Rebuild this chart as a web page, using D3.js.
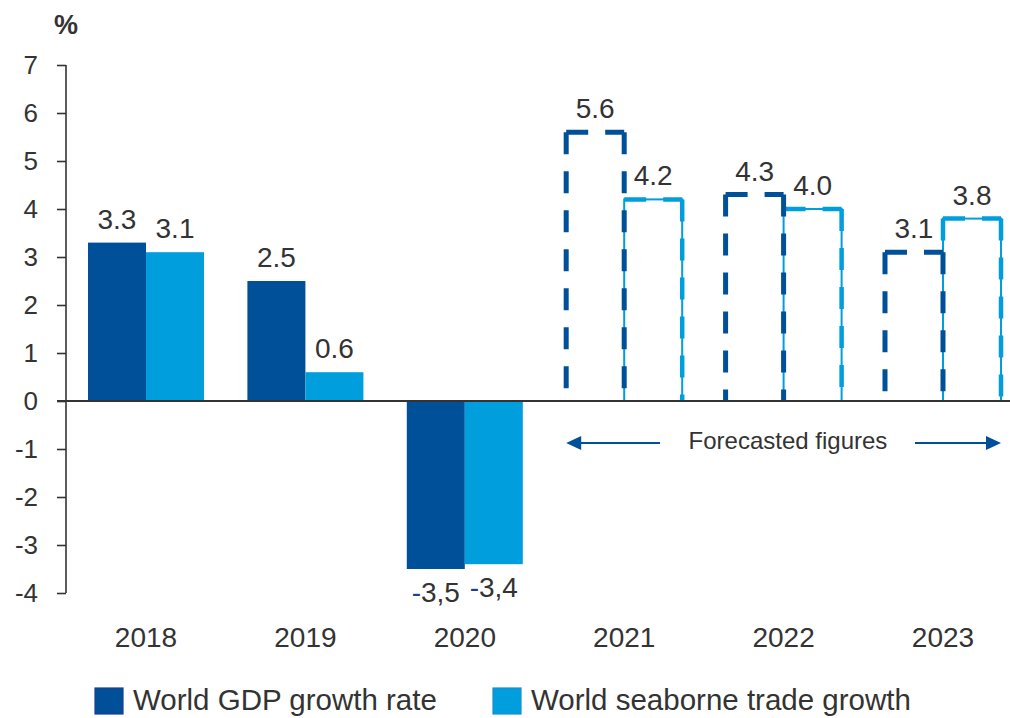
<!DOCTYPE html>
<html>
<head>
<meta charset="utf-8">
<script src="https://cdn.jsdelivr.net/npm/d3@7"></script>
<style>
  html, body { margin: 0; padding: 0; background: #fff; }
  svg { display: block; font-family: "Liberation Sans", Arial, sans-serif; }
</style>
</head>
<body>
<svg id="chart" width="1010" height="718"></svg>
<script>
// ---- data ----
const years = ["2018", "2019", "2020", "2021", "2022", "2023"];
const gdpValues = [3.3, 2.5, -3.5, 5.6, 4.3, 3.1];
const tradeValues = [3.1, 0.6, -3.4, 4.2, 4.0, 3.8];
const gdpLabels = ["3.3", "2.5", "-3,5", "5.6", "4.3", "3.1"];
const tradeLabels = ["3.1", "0.6", "-3,4", "4.2", "4.0", "3.8"];
const isForecast = [false, false, false, true, true, true];
const yTicks = [7, 6, 5, 4, 3, 2, 1, 0, -1, -2, -3, -4];
const seriesNames = ["World GDP growth rate", "World seaborne trade growth"];
const forecastLabel = "Forecasted figures";

// ---- styles ----
const DARK = "#004f99";
const LIGHT = "#009edd";
const TEXT = "#333333";

const svg = d3.select("#chart");

const y = d3.scaleLinear().domain([-4, 7]).range([593, 65]);
const x0 = d3.scaleBand().domain(years).range([66.3, 1022.7]).padding(0);
const x1 = d3.scaleBand().domain(["gdp", "trade"]).range([0, x0.bandwidth()])
  .paddingInner(0).paddingOuter(0.374);

const rows = years.map((yr, i) => ({
  year: yr, gdp: gdpValues[i], trade: tradeValues[i],
  gdpLabel: gdpLabels[i], tradeLabel: tradeLabels[i], forecast: isForecast[i]
}));

// ---- solid bars (actuals) ----
const actual = rows.filter(d => !d.forecast);
svg.append("g").selectAll("rect.gdp").data(actual).join("rect")
  .attr("x", d => x0(d.year) + x1("gdp"))
  .attr("width", x1.bandwidth())
  .attr("y", d => y(Math.max(0, d.gdp)))
  .attr("height", d => Math.abs(y(d.gdp) - y(0)))
  .attr("fill", DARK);
svg.append("g").selectAll("rect.trade").data(actual).join("rect")
  .attr("x", d => x0(d.year) + x1("trade"))
  .attr("width", x1.bandwidth())
  .attr("y", d => y(Math.max(0, d.trade)))
  .attr("height", d => Math.abs(y(d.trade) - y(0)))
  .attr("fill", LIGHT);

// ---- forecast (dashed) bars ----
const fc = rows.filter(d => d.forecast);
const dash = "22,17";
const gT = svg.append("g");
fc.forEach(d => {
  const xl = x0(d.year) + x1("trade"), xr = xl + x1.bandwidth();
  const yt = y(d.trade), yb = y(0);
  gT.append("rect").attr("x", xl).attr("y", yt).attr("width", xr - xl).attr("height", yb - yt)
    .attr("fill", "none").attr("stroke", LIGHT).attr("stroke-width", 2);
  gT.append("line").attr("x1", xl).attr("x2", xr).attr("y1", yt).attr("y2", yt)
    .attr("stroke", LIGHT).attr("stroke-width", 4.5).attr("stroke-dasharray", dash);
  gT.append("line").attr("x1", xr).attr("x2", xr).attr("y1", yt).attr("y2", yb)
    .attr("stroke", LIGHT).attr("stroke-width", 4.5).attr("stroke-dasharray", dash);
  if (d.trade > d.gdp) {
    gT.append("line").attr("x1", xl).attr("x2", xl).attr("y1", yt).attr("y2", y(d.gdp))
      .attr("stroke", LIGHT).attr("stroke-width", 4.5).attr("stroke-dasharray", dash);
  }
});
const gG = svg.append("g");
fc.forEach(d => {
  const xl = x0(d.year) + x1("gdp"), xr = xl + x1.bandwidth();
  const yt = y(d.gdp), yb = y(0);
  const segs = [[xl, yt, xl, yb], [xl, yt, xr, yt], [xr, yt, xr, yb]];
  segs.forEach(s => {
    gG.append("line").attr("x1", s[0]).attr("y1", s[1]).attr("x2", s[2]).attr("y2", s[3])
      .attr("stroke", DARK).attr("stroke-width", 5).attr("stroke-dasharray", dash);
  });
});

// ---- axes ----
const yAxis = svg.append("g").attr("transform", "translate(66,0)")
  .call(d3.axisLeft(y).tickValues(yTicks).tickSize(9).tickPadding(28).tickFormat(d3.format("d")));
yAxis.select(".domain").attr("d", `M0,${y(7)}V${y(-4)}`).attr("stroke", "#333").attr("stroke-width", 1.6);
yAxis.selectAll(".tick line").attr("stroke", "#333").attr("stroke-width", 1.6);
yAxis.selectAll(".tick text").attr("fill", TEXT).attr("font-size", 26)
  .attr("font-family", "'Liberation Sans', Arial, sans-serif").attr("x", -28).attr("dy", "0.34em")
  .text(d => String(d));

// zero line
svg.append("line").attr("x1", 57).attr("x2", 1010).attr("y1", y(0)).attr("y2", y(0))
  .attr("stroke", "#333").attr("stroke-width", 1.8);

// x labels
const xAxis = svg.append("g").attr("transform", "translate(0,620)")
  .call(d3.axisBottom(x0).tickSize(0).tickPadding(0));
xAxis.select(".domain").remove();
xAxis.selectAll(".tick text").attr("fill", TEXT).attr("font-size", 28)
  .attr("font-family", "'Liberation Sans', Arial, sans-serif").attr("dy", "0").attr("y", 27);

// % unit
svg.append("text").attr("x", 66).attr("y", 34).attr("text-anchor", "middle")
  .attr("font-size", 27).attr("font-weight", "bold").attr("fill", TEXT).text("%");

// ---- value labels ----
function addLabels(key, labelKey) {
  rows.forEach(d => {
    const v = d[key];
    const cx = x0(d.year) + x1(key) + x1.bandwidth() / 2;
    const t = svg.append("text").attr("x", cx).attr("text-anchor", "middle")
      .attr("font-size", 28).attr("fill", TEXT);
    if (v >= 0) {
      t.attr("y", y(v) - 14).text(d[labelKey]);
    } else {
      t.attr("y", y(v) + 33);
      const s = d[labelKey];
      t.append("tspan").attr("fill", "#1d3f8f").text(s.slice(0, 1));
      t.append("tspan").text(s.slice(1));
    }
  });
}
addLabels("gdp", "gdpLabel");
addLabels("trade", "tradeLabel");

// ---- forecast arrows ----
const ay = 443;
const firstF = x0(years[isForecast.indexOf(true)]) + x1("gdp");
const lastEnd = x0(years[years.length - 1]) + x1("trade") + x1.bandwidth();
svg.append("line").attr("x1", firstF + 14).attr("x2", 660).attr("y1", ay).attr("y2", ay)
  .attr("stroke", DARK).attr("stroke-width", 2.2);
svg.append("path").attr("d", `M${firstF},${ay}l15,-7v14z`).attr("fill", DARK);
svg.append("line").attr("x1", 915).attr("x2", lastEnd - 14).attr("y1", ay).attr("y2", ay)
  .attr("stroke", DARK).attr("stroke-width", 2.2);
svg.append("path").attr("d", `M${lastEnd},${ay}l-15,-7v14z`).attr("fill", DARK);
svg.append("text").attr("x", 788).attr("y", 449).attr("text-anchor", "middle")
  .attr("font-size", 24).attr("fill", TEXT).text(forecastLabel);

// ---- legend ----
const legend = [
  { name: seriesNames[0], color: DARK, border: "#1d3f8f", x: 95 },
  { name: seriesNames[1], color: LIGHT, border: "#1a8fd0", x: 493 }
];
legend.forEach(l => {
  svg.append("rect").attr("x", l.x).attr("y", 688).attr("width", 28).attr("height", 26)
    .attr("fill", l.color).attr("stroke", l.border).attr("stroke-width", 1.2);
  svg.append("text").attr("x", l.x + 38).attr("y", 710).attr("font-size", 29.5)
    .attr("fill", TEXT).text(l.name);
});
</script>
</body>
</html>
